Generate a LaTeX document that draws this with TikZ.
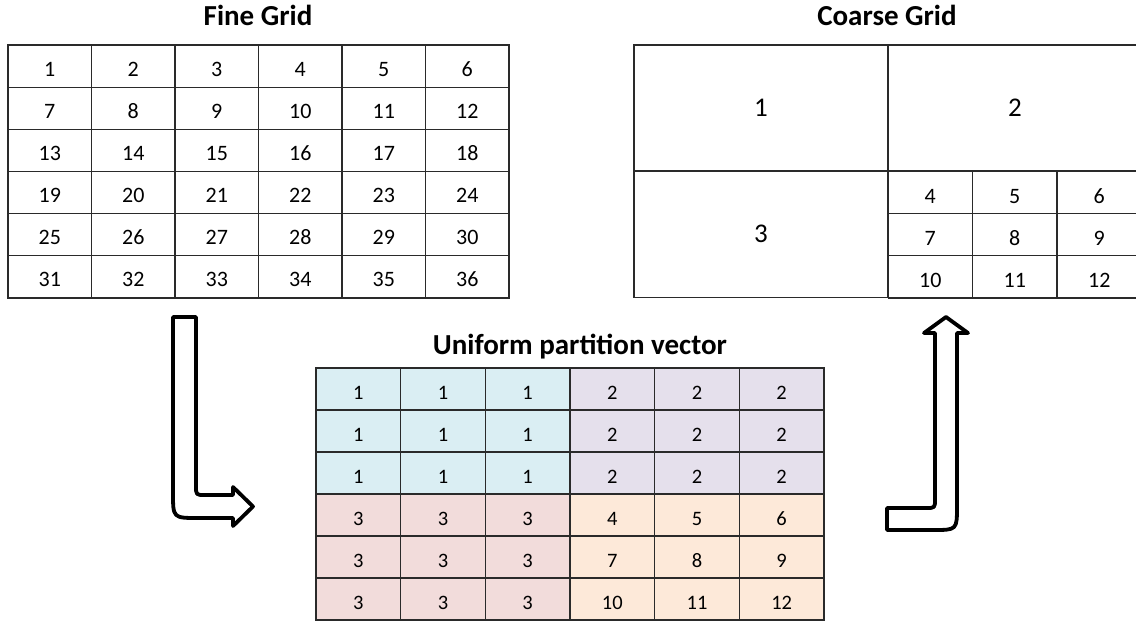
\documentclass[tikz,border=0pt]{standalone}
\usepackage{fontspec}
\setmainfont{Carlito}
\definecolor{pblue}{HTML}{DAEEF3}
\definecolor{ppurple}{HTML}{E5E0EC}
\definecolor{ppink}{HTML}{F2DCDB}
\definecolor{porange}{HTML}{FDE9D9}
\definecolor{gridline}{HTML}{2A2A2A}
\tikzset{
  cellbox/.style={draw=gridline, line width=1.2pt, rectangle, inner sep=0pt,
    text height=20pt, text depth=0pt, font=\fontsize{22}{24}\selectfont},
  finecell/.style={cellbox, minimum width=83.5pt, minimum height=42.17pt},
  pcell/.style={cellbox, minimum width=84.67pt, minimum height=42pt, font=\fontsize{20.5}{22}\selectfont},
  bigcell/.style={draw=gridline, line width=1.2pt, rectangle, inner sep=0pt,
    minimum width=254pt, minimum height=126pt, text height=16pt, text depth=0pt,
    font=\fontsize{27}{29}\selectfont},
  gline/.style={draw=gridline, line width=1.2pt},
  title/.style={anchor=base, inner sep=0pt, font=\bfseries\fontsize{29}{31}\selectfont},
  bigarrow/.style={draw=black, fill=white, line width=3.8pt, line join=round},
}
\begin{document}
\begin{tikzpicture}[x=1pt,y=-1pt]
\useasboundingbox (0,0) rectangle (1136,622);
% titles
\node[title] (tfine) at (258,25) {Fine Grid};
\node[title] (tcoarse) at (887,25) {Coarse Grid};
\node[title] (tpart) at (580,354) {Uniform partition vector};
% fine grid
\foreach \r in {0,...,5}{
  \foreach \c in {0,...,5}{
    \pgfmathtruncatemacro{\n}{\r*6+\c+1}
    \node[finecell] (f\n) at ({8+83.5*(\c+0.5)},{45+42.17*(\r+0.5)}) {\n};
  }
}
% coarse grid
\node[bigcell] (c1) at (761,108) {1};
\path[gline] (888,45) -- (1136,45);
\path[gline] (888,45) -- (888,171);
\node[inner sep=0pt, anchor=base, font=\fontsize{27}{29}\selectfont] (c2) at (1015,116) {2};
\node[bigcell] (c3) at (761,234.5) {3};
\foreach \r in {0,1,2}{
  \foreach \c in {0,1,2}{
    \pgfmathtruncatemacro{\n}{\r*3+\c+4}
    \coordinate (cc\n) at ({888+84.5*\c},{171+42.33*\r});
    \path[gline] (cc\n) -- ++(0,42.33);
    \path[gline] (cc\n) -- ++({\c==2 ? 80 : 84.5},0);
    \node[inner sep=0pt, anchor=base, font=\fontsize{22}{24}\selectfont] (c\n) at ({888+84.5*(\c+0.5)},{171+42.33*\r+32}) {\n};
  }
}
\path[gline] (888,298) -- (1136,298);
% partition vector
\foreach \r in {0,...,5}{
  \foreach \c in {0,...,5}{
    \pgfmathtruncatemacro{\idx}{\r*6+\c+1}
    \ifnum\r<3
      \ifnum\c<3 \def\fillc{pblue}\def\lab{1}\else\def\fillc{ppurple}\def\lab{2}\fi
    \else
      \ifnum\c<3 \def\fillc{ppink}\def\lab{3}\else\def\fillc{porange}
        \pgfmathtruncatemacro{\lab}{(\r-3)*3+(\c-3)+4}\fi
    \fi
    \node[pcell, fill=\fillc] (p\idx) at ({316+84.67*(\c+0.5)},{368+42*(\r+0.5)}) {\lab};
  }
}
% arrows
\coordinate (la) at (173,317);
\path[bigarrow] (la) -- (196,317) -- (196,486) .. controls (196,495) .. (205,495)
  -- (233,495) -- (233,487) -- (253,506.5) -- (233,526) -- (233,518)
  -- (198,518) .. controls (173,518) .. (173,493) -- cycle;
\coordinate (ra) at (887,508);
\path[bigarrow] (ra) -- (926,508) .. controls (935,508) .. (935,499)
  -- (935,333) -- (924,333) -- (946,317) -- (968,333) -- (957,333)
  -- (957,506) .. controls (957,530) .. (933,530) -- (887,530) -- cycle;
\end{tikzpicture}
\end{document}
